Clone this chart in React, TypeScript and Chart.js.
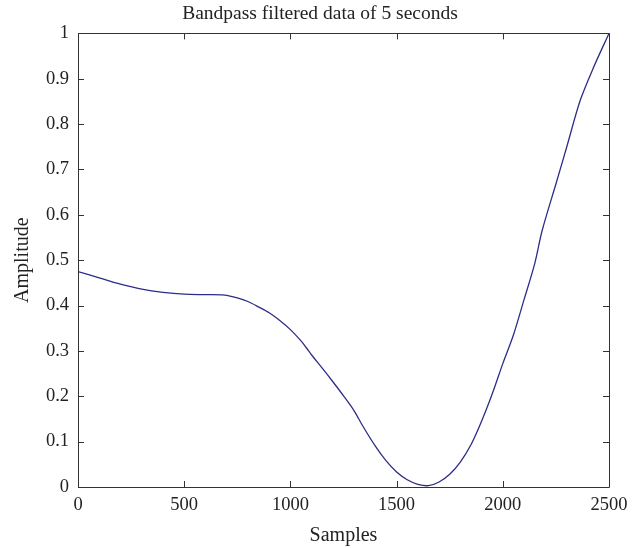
import React, { useEffect, useRef } from "react";
import { Chart, registerables } from "chart.js";

Chart.register(...registerables);

const samples = [0, 100, 200, 300, 400, 500, 600, 690, 750, 800, 850, 900, 950, 1000, 1050, 1075, 1100, 1150, 1200, 1250, 1300, 1340, 1400, 1450, 1500, 1550, 1600, 1650, 1700, 1750, 1800, 1850, 1900, 1950, 2000, 2050, 2100, 2150, 2185, 2250, 2300, 2365, 2430, 2500];
const amplitude = [0.475, 0.461, 0.447, 0.436, 0.429, 0.425, 0.424, 0.423, 0.417, 0.409, 0.397, 0.384, 0.367, 0.347, 0.322, 0.307, 0.291, 0.262, 0.232, 0.201, 0.168, 0.135, 0.09, 0.058, 0.033, 0.016, 0.006, 0.003, 0.011, 0.028, 0.055, 0.093, 0.145, 0.205, 0.272, 0.335, 0.413, 0.492, 0.565, 0.668, 0.748, 0.853, 0.928, 1.0];
const xTicks = [0, 500, 1000, 1500, 2000, 2500];
const yTicks = [0, 0.1, 0.2, 0.3, 0.4, 0.5, 0.6, 0.7, 0.8, 0.9, 1];

const FONT = "'Liberation Serif', 'DejaVu Serif', serif";
const AXIS_COLOR = "#333333";

const boxPlugin = {
  id: "boxTicks",
  afterDraw(chart: any) {
    const { ctx, chartArea } = chart;
    const { left, right, top, bottom } = chartArea;
    const xs = chart.scales.x;
    const ys = chart.scales.y;
    const len = 6;
    ctx.save();
    ctx.strokeStyle = AXIS_COLOR;
    ctx.lineWidth = 1;
    ctx.beginPath();
    ctx.rect(Math.round(left) + 0.5, Math.round(top) + 0.5, Math.round(right - left), Math.round(bottom - top));
    for (const t of xTicks) {
      const px = Math.round(xs.getPixelForValue(t)) + 0.5;
      ctx.moveTo(px, bottom);
      ctx.lineTo(px, bottom - len);
      ctx.moveTo(px, top);
      ctx.lineTo(px, top + len);
    }
    for (const t of yTicks) {
      const py = Math.round(ys.getPixelForValue(t)) + 0.5;
      ctx.moveTo(left, py);
      ctx.lineTo(left + len, py);
      ctx.moveTo(right, py);
      ctx.lineTo(right - len, py);
    }
    ctx.stroke();
    ctx.restore();
  },
};

export default function App() {
  const ref = useRef<HTMLCanvasElement>(null);
  useEffect(() => {
    document.body.style.margin = "0";
    const chart = new Chart(ref.current!, {
      type: "line",
      data: {
        datasets: [
          {
            data: samples.map((s, i) => ({ x: s, y: amplitude[i] })),
            borderColor: "#2c2c8a",
            borderWidth: 1.3,
            pointRadius: 0,
            tension: 0.3,
            fill: false,
          },
        ],
      },
      options: {
        animation: false,
        responsive: false,
        maintainAspectRatio: false,
        layout: { padding: 0 },
        plugins: {
          legend: { display: false },
          tooltip: { enabled: false },
          title: {
            display: true,
            text: "Bandpass filtered data of 5 seconds",
            color: "#222",
            font: { family: FONT, size: 19.5, weight: "normal" },
            padding: { top: 2, bottom: 8 },
          },
        },
        scales: {
          x: {
            type: "linear",
            min: 0,
            max: 2500,
            afterBuildTicks: (s: any) => {
              s.ticks = xTicks.map((v) => ({ value: v }));
            },
            afterFit: (s: any) => {
              s.height = 61;
            },
            grid: { display: false, drawTicks: false },
            border: { display: false },
            ticks: {
              color: "#222",
              font: { family: FONT, size: 18.5 },
              padding: 7,
              maxRotation: 0,
              callback: (v: any) => String(v),
            },
            title: {
              display: true,
              text: "Samples",
              color: "#222",
              font: { family: FONT, size: 20 },
              padding: { top: 0, bottom: 0 },
            },
          },
          y: {
            type: "linear",
            min: 0,
            max: 1,
            afterBuildTicks: (s: any) => {
              s.ticks = yTicks.map((v) => ({ value: v }));
            },
            afterFit: (s: any) => {
              s.width = 78;
            },
            grid: { display: false, drawTicks: false },
            border: { display: false },
            ticks: {
              color: "#222",
              font: { family: FONT, size: 18.5 },
              padding: 9,
              callback: (v: any) => String(v),
            },
            title: {
              display: true,
              text: "Amplitude",
              color: "#222",
              font: { family: FONT, size: 20 },
              padding: { top: 11, bottom: 0 },
            },
          },
          yRight: {
            type: "linear",
            position: "right",
            min: 0,
            max: 1,
            afterFit: (s: any) => {
              s.width = 31;
            },
            grid: { display: false, drawTicks: false },
            border: { display: false },
            ticks: { display: false },
          },
        },
      },
      plugins: [boxPlugin],
    });
    return () => chart.destroy();
  }, []);
  return (
    <div style={{ width: 640, height: 548, background: "#fff" }}>
      <canvas ref={ref} width={640} height={548} style={{ display: "block" }} />
    </div>
  );
}
